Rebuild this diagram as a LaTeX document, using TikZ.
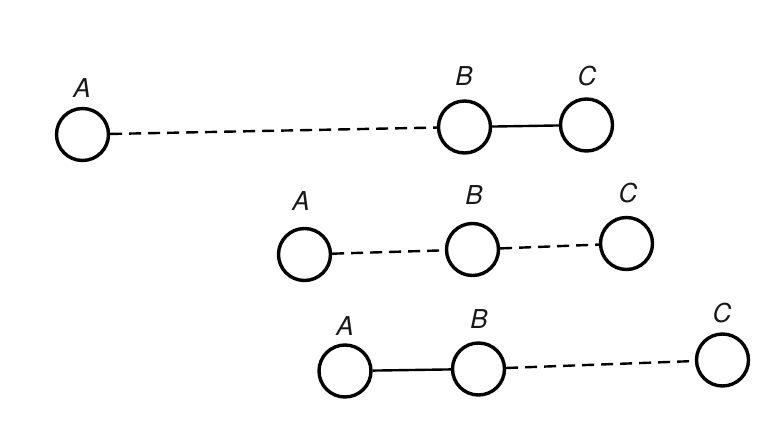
\documentclass[tikz,border=0pt]{standalone}
\usepackage{fontspec}
\setmainfont{TeX Gyre Heros}
\begin{document}
\begin{tikzpicture}[x=1pt,y=-1pt,
  ball/.style={circle,draw,line width=3.4pt,minimum size=52pt,inner sep=0pt},
  lbl/.style={font=\fontsize{26}{26}\selectfont\itshape,inner sep=0pt,text=black!90},
  bond/.style={line width=2.4pt},
  weak/.style={line width=2.4pt,dash pattern=on 12pt off 7pt}]
\fill[white] (0,0) rectangle (778,441);
\useasboundingbox (0,0) rectangle (778,441);
% row 1
\node[ball] (a1) at (82.5,134.5) {};
\node[ball] (b1) at (464.5,127) {};
\node[ball] (c1) at (586.5,125) {};
\node[lbl] (la1) at (82,88) {A};
\node[lbl] (lb1) at (464,76) {B};
\node[lbl] (lc1) at (587,76) {C};
\draw[weak] (a1) -- (b1);
\draw[bond] (b1) -- (c1);
% row 2
\node[ball] (a2) at (304.5,254.5) {};
\node[ball] (b2) at (472.5,249.5) {};
\node[ball] (c2) at (626.5,243.5) {};
\node[lbl] (la2) at (301,201) {A};
\node[lbl] (lb2) at (474,195) {B};
\node[lbl] (lc2) at (628,193) {C};
\draw[weak] (a2) -- (b2);
\draw[weak] (b2) -- (c2);
% row 3
\node[ball] (a3) at (345,371) {};
\node[ball] (b3) at (478.5,369) {};
\node[ball] (c3) at (722.5,360) {};
\node[lbl] (la3) at (345,326) {A};
\node[lbl] (lb3) at (479,319) {B};
\node[lbl] (lc3) at (722,313) {C};
\draw[bond] (a3) -- (b3);
\draw[weak] (b3) -- (c3);
\end{tikzpicture}
\end{document}
